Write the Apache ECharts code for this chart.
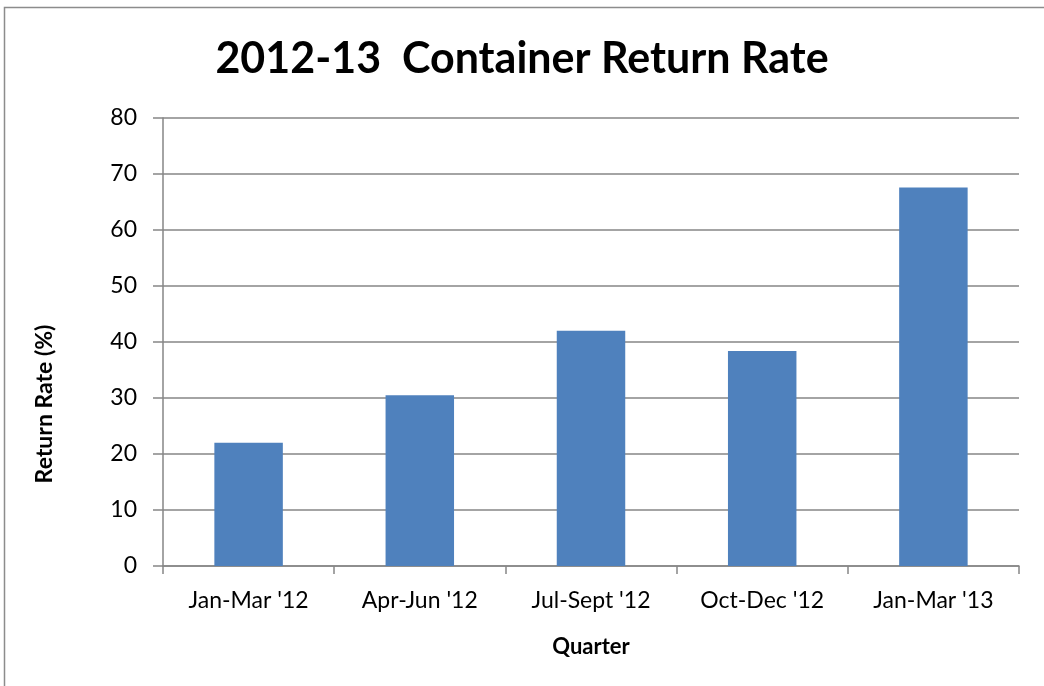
<!DOCTYPE html>
<html>
<head>
<meta charset="utf-8">
<script src="https://cdn.jsdelivr.net/npm/echarts@6/dist/echarts.min.js"></script>
<style>html,body{margin:0;padding:0;background:#fff}#c{width:1044px;height:686px}</style>
</head>
<body>
<div id="c"></div>
<script>
var titleText = "2012-13  Container Return Rate";
var xAxisTitle = "Quarter";
var yAxisTitle = "Return Rate (%)";
var categories = ["Jan-Mar '12", "Apr-Jun '12", "Jul-Sept '12", "Oct-Dec '12", "Jan-Mar '13"];
var returnRate = [22, 30.5, 42, 38.4, 67.6];
var yMin = 0, yMax = 80, yStep = 10;

var chart = echarts.init(document.getElementById('c'), null, {renderer: 'canvas'});
var FONT = 'Lato';
chart.setOption({
  animation: false,
  backgroundColor: '#ffffff',
  title: {
    text: titleText,
    left: 'center',
    top: 33,
    textStyle: {fontFamily: FONT, fontWeight: 'bold', fontSize: 43, color: '#000'}
  },
  graphic: [
    {type: 'rect', shape: {x: 4.5, y: 7.5, width: 1200, height: 1000}, style: {fill: 'none', stroke: '#8c8c8c', lineWidth: 1.5}, silent: true, z: -1},
    {type: 'text', x: 45, y: 404, rotation: Math.PI / 2,
     style: {text: yAxisTitle, fontFamily: FONT, fontWeight: 'bold', fontSize: 23, fill: '#000', align: 'center', verticalAlign: 'middle'}}
  ],
  grid: {left: 163, right: 25, top: 118, bottom: 120, containLabel: false},
  xAxis: {
    type: 'category',
    data: categories,
    name: xAxisTitle,
    nameLocation: 'middle',
    nameGap: 70,
    nameTextStyle: {fontFamily: FONT, fontWeight: 'bold', fontSize: 22, color: '#000'},
    axisLine: {lineStyle: {color: '#868686', width: 1.5}},
    axisTick: {show: true, alignWithLabel: false, length: 8, lineStyle: {color: '#868686', width: 1.5}},
    axisLabel: {fontFamily: FONT, fontSize: 23, color: '#000', margin: 23}
  },
  yAxis: {
    type: 'value',
    min: yMin, max: yMax, interval: yStep,
    axisLine: {show: true, lineStyle: {color: '#868686', width: 1.5}},
    axisTick: {show: true, length: 10, lineStyle: {color: '#868686', width: 1.5}},
    axisLabel: {fontFamily: FONT, fontSize: 23, color: '#000', margin: 26},
    splitLine: {show: true, lineStyle: {color: '#868686', width: 1.5}}
  },
  series: [{
    type: 'bar',
    data: returnRate,
    barWidth: '40%',
    itemStyle: {color: '#4f81bd'}
  }]
});
</script>
</body>
</html>
